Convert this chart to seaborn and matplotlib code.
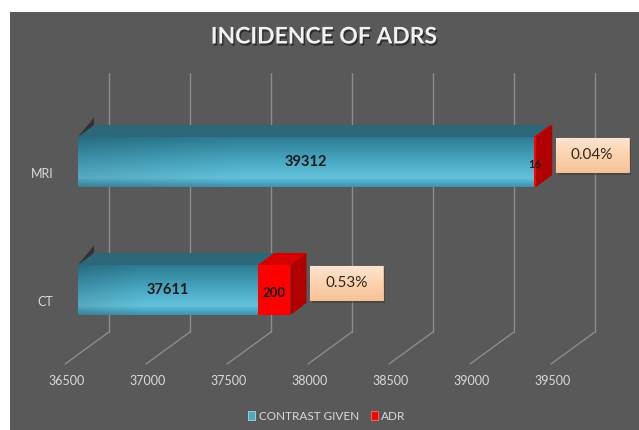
import numpy as np
import pandas as pd
import seaborn as sns
import matplotlib.pyplot as plt
import matplotlib.patheffects as pe
from matplotlib.colors import LinearSegmentedColormap
from matplotlib.patches import Polygon, Rectangle, Patch
from matplotlib.transforms import ScaledTranslation

# data
categories = ["MRI", "CT"]
contrast_given = [39312, 37611]
adr = [16, 200]
x_ticks = [36500, 37000, 37500, 38000, 38500, 39000, 39500]
series_names = ["CONTRAST GIVEN", "ADR"]

BG = "#595959"
BLUE = "#4bacc6"
RED = "#ff0000"
GRID = "#8c8c8c"
TXT = "#d9d9d9"
BASE = x_ticks[0]
BAR_H = 0.39
DX, DY = 99, 0.094      # fake 3D depth (data units)

df = pd.DataFrame({"modality": categories, "given": contrast_given, "adr": adr})
df["total"] = df["given"] + df["adr"]
df["pct"] = df["adr"] / df["given"] * 100

sns.set_style("dark")
plt.rcParams["font.family"] = ["Lato", "DejaVu Sans"]

fig = plt.figure(figsize=(6.39, 4.30), dpi=100)
fig.patch.set_facecolor("white")
fig.add_artist(Rectangle((10 / 639, 0), 629 / 639, 418 / 430, transform=fig.transFigure,
                         facecolor=BG, edgecolor="none", zorder=0))
ax = fig.add_axes([10 / 639, 65 / 430, 629 / 639, 353 / 430])
ax.set_facecolor("none")

# stacked bars: total (red) underneath, contrast given (blue) on top
sns.barplot(data=df, x="total", y="modality", color=RED, orient="h", width=BAR_H,
            saturation=1, ax=ax, zorder=3)
sns.barplot(data=df, x="given", y="modality", color=BLUE, orient="h", width=BAR_H,
            saturation=1, ax=ax, zorder=3)
for p in ax.patches:
    right = p.get_x() + p.get_width()
    p.set_x(BASE)
    p.set_width(right - BASE)
    p.set_edgecolor("none")

ax.set_xlim(36080, 39963)
ax.set_ylim(1.586, -1.172)

# back wall + floor gridlines
for v in x_ticks:
    ax.plot([v + 191, v + 191], [-0.695, 1.328], color=GRID, lw=1, zorder=1)
    ax.plot([v + 191, v - 80], [1.328, 1.578], color=GRID, lw=1, zorder=1)

# gradient for the blue front faces
stops = [(0, "#2d7c93"), (0.5, "#4aaac4"), (0.82, "#63c1da"), (1, "#3d94ad")]
cmap = LinearSegmentedColormap.from_list("face", stops)
rows = cmap(np.linspace(0, 1, 60))[:, :3]
cols = 0.88 + 0.12 * np.clip(np.linspace(0, 1, 200) / 0.35, 0, 1)
grad = np.clip(rows[:, None, :] * cols[None, :, None], 0, 1)

# gradient for the callout boxes
box_cmap = LinearSegmentedColormap.from_list("box", ["#fde6d2", "#fcd3b0", "#f7c39a"])
box_grad = box_cmap(np.linspace(0, 1, 40))[:, None, :3]

blue_bars = ax.patches[len(categories):]
for i, row in df.iterrows():
    yc = i
    top, bot = yc - BAR_H / 2, yc + BAR_H / 2
    im = ax.imshow(grad, extent=[BASE, row["given"], bot, top], aspect="auto", zorder=3.5)
    im.set_clip_path(blue_bars[i])
    # dark stub at the left end
    ax.add_patch(Polygon([(BASE, top), (BASE + DX, top - DY - 0.06), (BASE + DX, top - DY),
                          (BASE, top + 0.02)], facecolor="#333333", edgecolor="none", zorder=2.9))
    # top faces
    ax.add_patch(Polygon([(BASE, top), (BASE + DX, top - DY), (row["given"] + DX, top - DY),
                          (row["given"], top)], facecolor="#2c6879", edgecolor="none", zorder=3))
    ax.add_patch(Polygon([(row["given"], top), (row["given"] + DX, top - DY),
                          (row["total"] + DX, top - DY), (row["total"], top)],
                         facecolor="#d80000", edgecolor="none", zorder=3))
    # side face of the red end
    ax.add_patch(Polygon([(row["total"], top), (row["total"] + DX, top - DY),
                          (row["total"] + DX, bot - DY), (row["total"], bot)],
                         facecolor="#b00000", edgecolor="none", zorder=3))
    # value labels
    ax.text((BASE + row["given"]) / 2, yc, f"{row['given']}", ha="center", va="center",
            fontsize=10.5, fontweight="bold", color="#1a1a1a", zorder=5)
    red_fs = 9.5 if row["adr"] > 50 else 8
    ax.text((row["given"] + row["total"]) / 2, yc + 0.02, f"{row['adr']}", ha="center",
            va="center", fontsize=red_fs, fontweight="bold", color="#1a1a1a", zorder=5)
    # percentage callout boxes
    cx, cy = row["total"] + 346, yc - 0.055
    bw, bh = 450, 0.27
    ax.add_patch(Rectangle((cx - bw / 2 + 15, cy - bh / 2 + 0.018), bw, bh, facecolor="#333333",
                           alpha=0.55, edgecolor="none", zorder=4))
    box = Rectangle((cx - bw / 2, cy - bh / 2), bw, bh, facecolor="#fcd3b0",
                    edgecolor="#f2bd8e", lw=0.8, zorder=4.5)
    ax.add_patch(box)
    bim = ax.imshow(box_grad, extent=[cx - bw / 2, cx + bw / 2, cy + bh / 2, cy - bh / 2],
                    aspect="auto", zorder=4.6)
    bim.set_clip_path(box)
    ax.text(cx, cy, f"{row['pct']:.2f}%", ha="center", va="center", fontsize=11,
            color="#2e2820", zorder=5)

# axes styling
for s in ax.spines.values():
    s.set_visible(False)
ax.set_xlabel("")
ax.set_ylabel("")
ax.set_xticks(x_ticks)
ax.set_xticklabels([str(t) for t in x_ticks])
ax.tick_params(axis="x", length=0, pad=7, labelsize=9, labelcolor=TXT)
ax.tick_params(axis="y", length=0, pad=-31, labelsize=9, labelcolor=TXT)
ax.grid(False)
shift_x = ScaledTranslation(-11 / 100, 0, fig.dpi_scale_trans)
for lab in ax.get_xticklabels():
    lab.set_transform(lab.get_transform() + shift_x)
shift_y = ScaledTranslation(0, -11 / 100, fig.dpi_scale_trans)
for lab in ax.get_yticklabels():
    lab.set_transform(lab.get_transform() + shift_y)

fig.text(324 / 639, 1 - 37 / 430, "INCIDENCE OF ADRS", ha="center", va="center",
         fontsize=16.5, fontweight="bold", color="#f2f2f2",
         path_effects=[pe.withSimplePatchShadow(offset=(1, -1.5), shadow_rgbFace="black", alpha=0.5)])

handles = [Patch(facecolor=BLUE, edgecolor="#bfe6f0", lw=0.5),
           Patch(facecolor=RED, edgecolor="#ff8080", lw=0.5)]
fig.legend(handles, series_names, loc="center", bbox_to_anchor=(327 / 639, 1 - 416 / 430),
           ncol=2, frameon=False, fontsize=8.5, labelcolor=TXT, handlelength=0.6,
           handleheight=0.9, handletextpad=0.3, columnspacing=1.0)

fig.savefig("out.png", dpi=100)
